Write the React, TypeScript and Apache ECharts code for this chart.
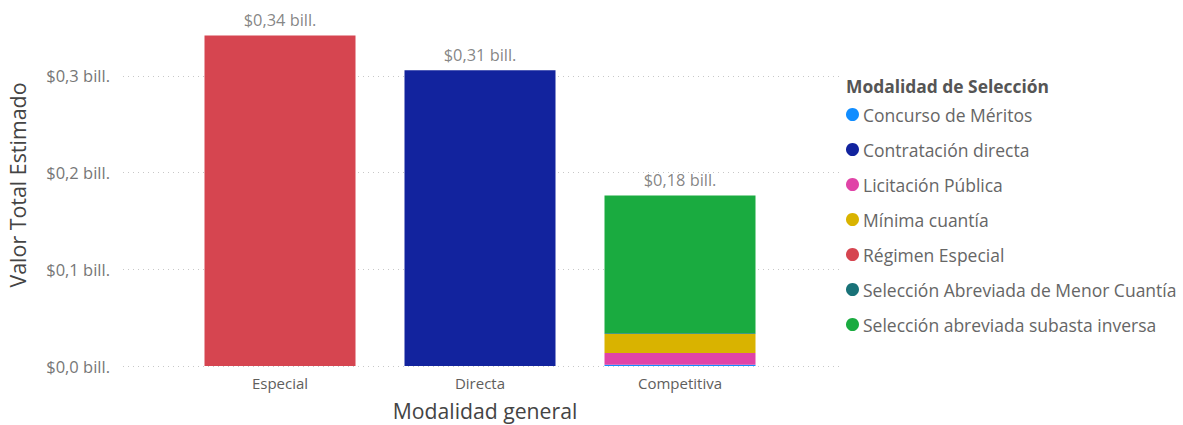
import React, { useEffect, useRef } from "react";
import * as echarts from "echarts";

const categories = ["Especial", "Directa", "Competitiva"];
const legendNames = [
  "Concurso de Méritos",
  "Contratación directa",
  "Licitación Pública",
  "Mínima cuantía",
  "Régimen Especial",
  "Selección Abreviada de Menor Cuantía",
  "Selección abreviada subasta inversa",
];
const seriesColors = ["#118DFF", "#12239E", "#E044A7", "#D9B300", "#D64550", "#197278", "#1AAB40"];
// values in billions, per category [Especial, Directa, Competitiva]
const concursoMeritos = [null, null, 0.0012];
const contratacionDirecta = [null, 0.306, null];
const licitacionPublica = [null, null, 0.0122];
const minimaCuantia = [null, null, 0.0197];
const regimenEspecial = [0.342, null, null];
const abreviadaMenorCuantia = [null, null, 0.0008];
const subastaInversa = [null, null, 0.1425];
const totals = [0.342, 0.306, 0.176];
const yTicks = [0, 0.1, 0.2, 0.3];

const seriesValues = [
  concursoMeritos,
  contratacionDirecta,
  licitacionPublica,
  minimaCuantia,
  regimenEspecial,
  abreviadaMenorCuantia,
  subastaInversa,
];

const FONT = "'Open Sans', 'Noto Sans', sans-serif";

function fmt(v: number, d: number) {
  return "$" + v.toFixed(d).replace(".", ",") + " bill.";
}

export default function App() {
  const ref = useRef<HTMLDivElement>(null);
  useEffect(() => {
    if (!ref.current) return;
    const chart = echarts.init(ref.current, undefined, { renderer: "svg" });
    const top = 366 - 0.35 * 966.67;
    const height = 0.35 * 966.67;
    const option: any = {
      animation: false,
      backgroundColor: "#ffffff",
      textStyle: { fontFamily: FONT },
      grid: [
        { left: 180, width: 600, top, height },
        { left: 123, width: 717, top, height },
      ],
      xAxis: [
        {
          type: "category",
          gridIndex: 0,
          data: categories,
          axisLine: { show: false },
          axisTick: { show: false },
          axisLabel: { color: "#605E5C", fontSize: 15, margin: 9, fontFamily: FONT },
        },
        { type: "value", gridIndex: 1, show: false, min: 0, max: 1 },
      ],
      yAxis: [
        {
          type: "value",
          gridIndex: 0,
          min: 0,
          max: 0.35,
          interval: 0.1,
          show: false,
          splitLine: { show: false },
        },
        {
          type: "value",
          gridIndex: 1,
          min: 0,
          max: 0.35,
          interval: 0.1,
          axisLine: { show: false },
          axisTick: { show: false },
          axisLabel: {
            color: "#777777",
            fontSize: 16.5,
            margin: 13,
            fontFamily: FONT,
            showMaxLabel: false,
            formatter: (v: number) => (yTicks.some((t) => Math.abs(t - v) < 1e-9) ? fmt(v, 1) : ""),
          },
          splitLine: {
            show: true,
            showMaxLine: false,
            lineStyle: { color: "#C8C8C8", type: [1, 4], width: 1 },
          },
        },
      ],
      legend: {
        orient: "vertical",
        left: 846,
        top: 105,
        padding: 0,
        icon: "circle",
        itemWidth: 13,
        itemHeight: 13,
        itemGap: 16,
        textStyle: { color: "#666666", fontSize: 17.5, padding: [0, 0, 0, -1], fontFamily: FONT, lineHeight: 19 },
        data: legendNames,
      },
      graphic: [
        {
          type: "text",
          left: 846,
          top: 77,
          style: { text: "Modalidad de Selección", fill: "#555555", font: `bold 17.4px ${FONT}` },
        },
        {
          type: "text",
          x: 17,
          y: 185,
          rotation: Math.PI / 2,
          style: {
            text: "Valor Total Estimado",
            fill: "#444444",
            font: `21.4px ${FONT}`,
            textAlign: "center",
            textVerticalAlign: "middle",
          },
        },
        {
          type: "text",
          x: 485,
          y: 410,
          style: {
            text: "Modalidad general",
            fill: "#444444",
            font: `21.2px ${FONT}`,
            textAlign: "center",
            textVerticalAlign: "middle",
          },
        },
      ],
      series: [
        ...legendNames.map((name, i) => ({
          name,
          type: "bar",
          stack: "total",
          xAxisIndex: 0,
          yAxisIndex: 0,
          barWidth: 151,
          itemStyle: { color: seriesColors[i] },
          data: seriesValues[i],
        })),
        {
          name: "totals",
          type: "scatter",
          xAxisIndex: 0,
          yAxisIndex: 0,
          symbolSize: 0,
          silent: true,
          data: totals,
          label: {
            show: true,
            position: "top",
            distance: 8,
            color: "#666666",
            fontSize: 16.4,
            fontFamily: FONT,
            formatter: (p: any) => fmt(p.value, 2),
          },
        },
      ],
    };
    chart.setOption(option);
    return () => chart.dispose();
  }, []);
  return (
    <div
      ref={ref}
      style={{ position: "fixed", left: 0, top: 0, width: 1183, height: 425, background: "#fff" }}
    />
  );
}
